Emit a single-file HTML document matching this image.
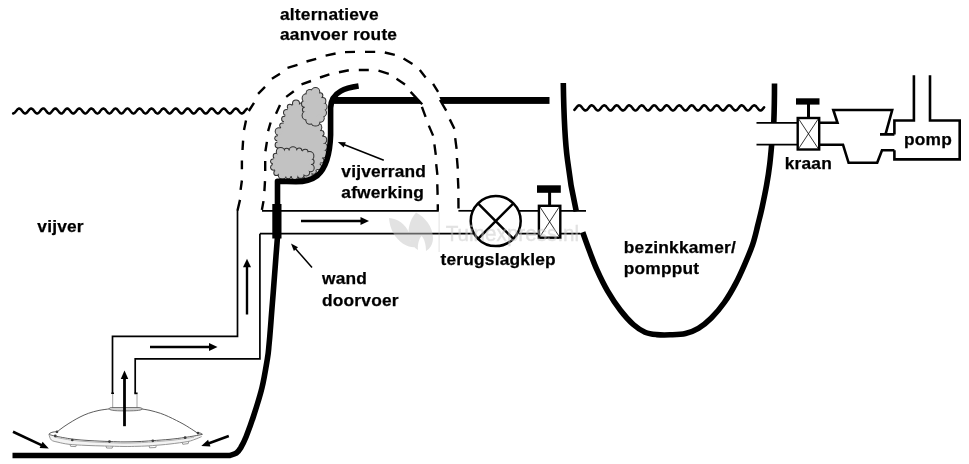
<!DOCTYPE html>
<html lang="nl">
<head>
<meta charset="utf-8">
<title>Vijver schema - bodemdrain, bezinkkamer en pomp</title>
<style>
html,body{margin:0;padding:0;background:#fff;}
body{width:969px;height:464px;overflow:hidden;font-family:"Liberation Sans",Arial,sans-serif;}
svg{display:block;filter:grayscale(1);}
</style>
</head>
<body>
<svg width="969" height="464" viewBox="0 0 969 464" font-family="'Liberation Sans', Arial, sans-serif" font-weight="bold" fill="#000">
<path d="M13.1,113.5 L13.8,113.3 L14.6,112.8 L15.3,112.0 L16.1,111.0 L16.9,110.1 L17.6,109.2 L18.4,108.7 L19.1,108.5 L19.9,108.7 L20.6,109.2 L21.4,110.0 L22.1,111.0 L22.9,111.9 L23.6,112.7 L24.4,113.3 L25.1,113.5 L25.9,113.3 L26.6,112.8 L27.4,112.0 L28.1,111.1 L28.9,110.1 L29.6,109.3 L30.4,108.7 L31.1,108.5 L31.9,108.7 L32.6,109.2 L33.4,110.0 L34.1,110.9 L34.9,111.9 L35.6,112.7 L36.4,113.3 L37.1,113.5 L37.9,113.3 L38.6,112.8 L39.4,112.1 L40.1,111.1 L40.9,110.2 L41.6,109.3 L42.4,108.7 L43.1,108.5 L43.9,108.6 L44.6,109.1 L45.4,109.9 L46.1,110.9 L46.9,111.8 L47.6,112.7 L48.4,113.2 L49.1,113.5 L49.9,113.4 L50.6,112.9 L51.4,112.1 L52.1,111.2 L52.9,110.2 L53.6,109.4 L54.4,108.8 L55.1,108.5 L55.9,108.6 L56.6,109.1 L57.4,109.9 L58.1,110.8 L58.9,111.8 L59.6,112.6 L60.4,113.2 L61.1,113.5 L61.9,113.4 L62.6,112.9 L63.4,112.2 L64.1,111.2 L64.8,110.3 L65.6,109.4 L66.3,108.8 L67.1,108.5 L67.8,108.6 L68.6,109.1 L69.3,109.8 L70.1,110.8 L70.8,111.7 L71.6,112.6 L72.3,113.2 L73.1,113.5 L73.8,113.4 L74.6,112.9 L75.3,112.2 L76.1,111.3 L76.8,110.3 L77.6,109.4 L78.3,108.8 L79.1,108.5 L79.8,108.6 L80.6,109.0 L81.3,109.8 L82.1,110.7 L82.8,111.7 L83.6,112.5 L84.3,113.2 L85.1,113.5 L85.8,113.4 L86.6,113.0 L87.3,112.2 L88.1,111.3 L88.8,110.4 L89.6,109.5 L90.3,108.8 L91.1,108.5 L91.8,108.6 L92.6,109.0 L93.3,109.7 L94.1,110.6 L94.8,111.6 L95.6,112.5 L96.3,113.1 L97.1,113.5 L97.8,113.4 L98.6,113.0 L99.3,112.3 L100.1,111.4 L100.8,110.4 L101.6,109.5 L102.3,108.9 L103.1,108.5 L103.8,108.6 L104.6,109.0 L105.3,109.7 L106.1,110.6 L106.8,111.6 L107.6,112.5 L108.3,113.1 L109.1,113.5 L109.8,113.4 L110.6,113.0 L111.3,112.3 L112.1,111.4 L112.8,110.5 L113.6,109.6 L114.3,108.9 L115.1,108.5 L115.8,108.6 L116.6,108.9 L117.3,109.6 L118.1,110.5 L118.8,111.5 L119.6,112.4 L120.3,113.1 L121.1,113.5 L121.8,113.4 L122.6,113.1 L123.3,112.4 L124.1,111.5 L124.8,110.5 L125.6,109.6 L126.3,108.9 L127.1,108.5 L127.8,108.5 L128.6,108.9 L129.3,109.6 L130.1,110.5 L130.8,111.5 L131.6,112.4 L132.3,113.1 L133.1,113.4 L133.8,113.5 L134.6,113.1 L135.3,112.4 L136.1,111.5 L136.8,110.6 L137.6,109.7 L138.3,109.0 L139.1,108.6 L139.8,108.5 L140.6,108.9 L141.3,109.6 L142.1,110.4 L142.8,111.4 L143.6,112.3 L144.3,113.0 L145.1,113.4 L145.8,113.5 L146.6,113.1 L147.3,112.5 L148.1,111.6 L148.8,110.6 L149.6,109.7 L150.3,109.0 L151.1,108.6 L151.8,108.5 L152.6,108.9 L153.3,109.5 L154.1,110.4 L154.8,111.4 L155.6,112.3 L156.3,113.0 L157.1,113.4 L157.8,113.5 L158.6,113.2 L159.3,112.5 L160.1,111.6 L160.8,110.7 L161.6,109.7 L162.3,109.0 L163.1,108.6 L163.8,108.5 L164.6,108.8 L165.3,109.5 L166.1,110.3 L166.8,111.3 L167.6,112.2 L168.3,113.0 L169.1,113.4 L169.8,113.5 L170.6,113.2 L171.3,112.5 L172.1,111.7 L172.8,110.7 L173.6,109.8 L174.3,109.0 L175.1,108.6 L175.8,108.5 L176.6,108.8 L177.3,109.4 L178.1,110.3 L178.8,111.3 L179.6,112.2 L180.3,112.9 L181.1,113.4 L181.8,113.5 L182.6,113.2 L183.3,112.6 L184.1,111.7 L184.8,110.8 L185.6,109.8 L186.3,109.1 L187.1,108.6 L187.8,108.5 L188.6,108.8 L189.3,109.4 L190.1,110.2 L190.8,111.2 L191.6,112.1 L192.3,112.9 L193.1,113.4 L193.8,113.5 L194.6,113.2 L195.3,112.6 L196.1,111.8 L196.8,110.8 L197.6,109.9 L198.3,109.1 L199.1,108.6 L199.8,108.5 L200.6,108.8 L201.3,109.4 L202.1,110.2 L202.8,111.2 L203.6,112.1 L204.3,112.9 L205.1,113.4 L205.8,113.5 L206.6,113.3 L207.3,112.7 L208.1,111.8 L208.8,110.9 L209.6,109.9 L210.3,109.1 L211.1,108.6 L211.8,108.5 L212.6,108.7 L213.3,109.3 L214.1,110.1 L214.8,111.1 L215.6,112.0 L216.3,112.8 L217.1,113.3 L217.8,113.5 L218.6,113.3 L219.3,112.7 L220.1,111.9 L220.8,110.9 L221.6,110.0 L222.3,109.2 L223.1,108.7 L223.8,108.5 L224.6,108.7 L225.3,109.3 L226.1,110.1 L226.8,111.1 L227.6,112.0 L228.3,112.8 L229.1,113.3 L229.8,113.5 L230.6,113.3 L231.3,112.7 L232.1,111.9 L232.8,111.0 L233.6,110.0 L234.3,109.2 L235.1,108.7 L235.8,108.5 L236.6,108.7 L237.3,109.2 L238.1,110.0 L238.8,111.0 L239.6,112.0 L240.3,112.8 L241.1,113.3 L241.8,113.5 L242.6,113.3 L243.3,112.8 L244.1,112.0 L244.8,111.0 L245.6,110.1 L246.3,109.3 L247.1,108.7" fill="none" stroke="#000" stroke-width="2.5" stroke-linejoin="round" stroke-linecap="round"/>
<path d="M574.4,109.9 L575.1,109.1 L575.9,108.2 L576.6,107.2 L577.4,106.3 L578.1,105.7 L578.9,105.3 L579.6,105.4 L580.4,105.7 L581.1,106.4 L581.9,107.3 L582.6,108.3 L583.4,109.2 L584.1,109.9 L584.9,110.4 L585.6,110.5 L586.4,110.2 L587.1,109.7 L587.9,108.8 L588.6,107.9 L589.4,106.9 L590.1,106.1 L590.9,105.5 L591.6,105.3 L592.4,105.4 L593.1,105.9 L593.9,106.7 L594.6,107.6 L595.4,108.6 L596.1,109.5 L596.9,110.1 L597.6,110.5 L598.4,110.4 L599.1,110.1 L599.9,109.4 L600.6,108.5 L601.4,107.5 L602.1,106.6 L602.9,105.9 L603.6,105.4 L604.4,105.3 L605.1,105.6 L605.9,106.1 L606.6,107.0 L607.4,107.9 L608.1,108.9 L608.9,109.7 L609.6,110.3 L610.4,110.5 L611.1,110.4 L611.9,109.9 L612.6,109.1 L613.4,108.2 L614.1,107.2 L614.9,106.3 L615.6,105.7 L616.4,105.3 L617.1,105.4 L617.9,105.7 L618.6,106.4 L619.4,107.3 L620.1,108.3 L620.9,109.2 L621.6,109.9 L622.4,110.4 L623.1,110.5 L623.9,110.2 L624.6,109.7 L625.4,108.8 L626.1,107.9 L626.9,106.9 L627.6,106.1 L628.4,105.5 L629.1,105.3 L629.9,105.4 L630.6,105.9 L631.4,106.7 L632.1,107.6 L632.9,108.6 L633.6,109.5 L634.4,110.1 L635.1,110.5 L635.9,110.4 L636.6,110.1 L637.4,109.4 L638.1,108.5 L638.9,107.5 L639.6,106.6 L640.4,105.9 L641.1,105.4 L641.9,105.3 L642.6,105.6 L643.4,106.1 L644.1,107.0 L644.9,107.9 L645.6,108.9 L646.4,109.7 L647.1,110.3 L647.9,110.5 L648.6,110.4 L649.4,109.9 L650.1,109.1 L650.9,108.2 L651.6,107.2 L652.4,106.3 L653.1,105.7 L653.9,105.3 L654.6,105.4 L655.4,105.7 L656.1,106.4 L656.9,107.3 L657.6,108.3 L658.4,109.2 L659.1,109.9 L659.9,110.4 L660.6,110.5 L661.4,110.2 L662.1,109.7 L662.9,108.8 L663.6,107.9 L664.4,106.9 L665.1,106.1 L665.9,105.5 L666.6,105.3 L667.4,105.4 L668.1,105.9 L668.9,106.7 L669.6,107.6 L670.4,108.6 L671.1,109.5 L671.9,110.1 L672.6,110.5 L673.4,110.4 L674.1,110.1 L674.9,109.4 L675.6,108.5 L676.4,107.5 L677.1,106.6 L677.9,105.9 L678.6,105.4 L679.4,105.3 L680.1,105.6 L680.9,106.1 L681.6,107.0 L682.4,107.9 L683.1,108.9 L683.9,109.7 L684.6,110.3 L685.4,110.5 L686.1,110.4 L686.9,109.9 L687.6,109.1 L688.4,108.2 L689.1,107.2 L689.9,106.3 L690.6,105.7 L691.4,105.3 L692.1,105.4 L692.9,105.7 L693.6,106.4 L694.4,107.3 L695.1,108.3 L695.9,109.2 L696.6,109.9 L697.4,110.4 L698.1,110.5 L698.9,110.2 L699.6,109.7 L700.4,108.8 L701.1,107.9 L701.9,106.9 L702.6,106.1 L703.4,105.5 L704.1,105.3 L704.9,105.4 L705.6,105.9 L706.4,106.7 L707.1,107.6 L707.9,108.6 L708.6,109.5 L709.4,110.1 L710.1,110.5 L710.9,110.4 L711.6,110.1 L712.4,109.4 L713.1,108.5 L713.9,107.5 L714.6,106.6 L715.4,105.9 L716.1,105.4 L716.9,105.3 L717.6,105.6 L718.4,106.1 L719.1,107.0 L719.9,107.9 L720.6,108.9 L721.4,109.7 L722.1,110.3 L722.9,110.5 L723.6,110.4 L724.4,109.9 L725.1,109.1 L725.9,108.2 L726.6,107.2 L727.4,106.3 L728.1,105.7 L728.9,105.3 L729.6,105.4 L730.4,105.7 L731.1,106.4 L731.9,107.3 L732.6,108.3 L733.4,109.2 L734.1,109.9 L734.9,110.4 L735.6,110.5 L736.4,110.2 L737.1,109.7 L737.9,108.8 L738.6,107.9 L739.4,106.9 L740.1,106.1 L740.9,105.5 L741.6,105.3 L742.4,105.4 L743.1,105.9 L743.9,106.7 L744.6,107.6 L745.4,108.6 L746.1,109.5 L746.9,110.1 L747.6,110.5 L748.4,110.4 L749.1,110.1 L749.9,109.4 L750.6,108.5 L751.4,107.5 L752.1,106.6 L752.9,105.9 L753.6,105.4 L754.4,105.3 L755.1,105.6 L755.9,106.1 L756.6,107.0 L757.4,107.9 L758.1,108.9 L758.9,109.7 L759.6,110.3 L760.4,110.5 L761.1,110.4 L761.9,109.9 L762.6,109.1 L763.4,108.2 L764.1,107.2" fill="none" stroke="#000" stroke-width="2.5" stroke-linejoin="round" stroke-linecap="round"/>
<rect x="331" y="97" width="218.5" height="6.9" fill="#000"/>
<path d="M415.2,96 L439,96 L442.5,105 L423.2,105 Z" fill="#fff"/>
<path d="M237.5,210.5 L240.0,199.9 M240.6,189.9 L241.9,180.5 M241.9,169.2 L241.9,160.5 M242.5,150.0 L243.1,140.6 M244.0,130.0 L246.0,120.6 M248.8,111.0 L254.0,102.8 M258.1,93.8 L265.0,86.9 M271.9,78.8 L280.0,73.8 M287.5,67.8 L297.5,64.8 M306.5,61.5 L316.2,58.8 M325.6,55.6 L335.6,53.5 M345.0,52.1 L355.0,51.9 M365.0,51.9 L375.2,51.9 M384.8,52.5 L394.8,54.8 M403.5,58.5 L412.5,64.0 M419.8,70.0 L425.6,77.5 M433.1,83.8 L438.1,91.9 M440.0,100.0 L446.2,110.6 M449.8,119.4 L454.4,128.8 M455.2,138.1 L456.6,148.8 M456.9,158.0 L457.8,168.6 M457.9,178.0 L458.4,188.6 M458.4,198.0 L458.5,208.6 M261.9,209.9 L263.5,201.1 M264.4,191.1 L265.0,181.1 M265.2,171.1 L265.2,161.1 M265.4,151.2 L266.9,141.9 M268.1,131.2 L270.6,122.5 M276.0,113.8 L280.0,105.0 M286.2,96.9 L293.8,91.2 M301.5,84.4 L311.0,81.0 M320.0,77.5 L329.4,74.4 M339.0,72.2 L348.8,70.2 M358.8,70.0 L368.8,70.0 M378.5,70.6 L388.8,73.8 M396.5,78.8 L405.0,84.4 M410.6,91.9 L422.2,104.2 M421.9,106.9 L425.6,116.9 M428.8,125.6 L433.1,135.6 M434.4,144.4 L435.8,154.9 M436.2,164.2 L437.4,174.9 M437.3,184.2 L437.6,194.9 M437.8,204.2 L437.8,210.5" fill="none" stroke="#000" stroke-width="2.4"/>
<circle cx="296.0" cy="103.5" r="4.0" fill="#303030"/><circle cx="302.2" cy="106.4" r="4.2" fill="#303030"/><circle cx="305.6" cy="112.4" r="5.0" fill="#303030"/><circle cx="308.0" cy="118.9" r="4.0" fill="#303030"/><circle cx="312.1" cy="123.9" r="4.1" fill="#303030"/><circle cx="318.0" cy="127.4" r="4.3" fill="#303030"/><circle cx="321.1" cy="133.4" r="3.4" fill="#303030"/><circle cx="323.1" cy="139.9" r="4.1" fill="#303030"/><circle cx="323.4" cy="146.8" r="4.4" fill="#303030"/><circle cx="322.8" cy="153.7" r="4.7" fill="#303030"/><circle cx="321.3" cy="160.4" r="3.2" fill="#303030"/><circle cx="318.2" cy="166.6" r="3.7" fill="#303030"/><circle cx="313.6" cy="171.5" r="3.2" fill="#303030"/><circle cx="307.9" cy="175.0" r="4.8" fill="#303030"/><circle cx="301.0" cy="175.0" r="4.5" fill="#303030"/><circle cx="294.5" cy="173.2" r="3.1" fill="#303030"/><circle cx="288.3" cy="170.1" r="5.1" fill="#303030"/><circle cx="285.0" cy="164.1" r="5.1" fill="#303030"/><circle cx="282.6" cy="157.7" r="4.4" fill="#303030"/><circle cx="280.8" cy="151.1" r="4.4" fill="#303030"/><circle cx="278.0" cy="145.0" r="3.4" fill="#303030"/><circle cx="277.3" cy="138.2" r="3.0" fill="#303030"/><circle cx="278.9" cy="131.5" r="4.2" fill="#303030"/><circle cx="282.3" cy="125.5" r="3.1" fill="#303030"/><circle cx="284.5" cy="119.1" r="3.4" fill="#303030"/><circle cx="286.5" cy="112.4" r="3.5" fill="#303030"/><circle cx="289.9" cy="106.8" r="3.1" fill="#303030"/><polygon points="296.0,103.5 302.0,106.0 306.0,113.0 309.0,122.0 319.0,128.0 323.0,138.0 323.5,150.0 321.5,160.0 317.0,169.0 309.0,175.0 298.0,175.0 288.0,170.0 283.0,160.0 281.5,152.0 278.5,148.0 277.0,139.5 279.0,131.0 283.5,123.5 285.5,115.0 288.5,107.5" fill="#c2c2c2"/><circle cx="296.0" cy="103.5" r="3.0" fill="#c2c2c2"/><circle cx="302.2" cy="106.4" r="3.2" fill="#c2c2c2"/><circle cx="305.6" cy="112.4" r="4.0" fill="#c2c2c2"/><circle cx="308.0" cy="118.9" r="3.0" fill="#c2c2c2"/><circle cx="312.1" cy="123.9" r="3.1" fill="#c2c2c2"/><circle cx="318.0" cy="127.4" r="3.3" fill="#c2c2c2"/><circle cx="321.1" cy="133.4" r="2.4" fill="#c2c2c2"/><circle cx="323.1" cy="139.9" r="3.1" fill="#c2c2c2"/><circle cx="323.4" cy="146.8" r="3.4" fill="#c2c2c2"/><circle cx="322.8" cy="153.7" r="3.7" fill="#c2c2c2"/><circle cx="321.3" cy="160.4" r="2.2" fill="#c2c2c2"/><circle cx="318.2" cy="166.6" r="2.7" fill="#c2c2c2"/><circle cx="313.6" cy="171.5" r="2.2" fill="#c2c2c2"/><circle cx="307.9" cy="175.0" r="3.8" fill="#c2c2c2"/><circle cx="301.0" cy="175.0" r="3.5" fill="#c2c2c2"/><circle cx="294.5" cy="173.2" r="2.1" fill="#c2c2c2"/><circle cx="288.3" cy="170.1" r="4.1" fill="#c2c2c2"/><circle cx="285.0" cy="164.1" r="4.1" fill="#c2c2c2"/><circle cx="282.6" cy="157.7" r="3.4" fill="#c2c2c2"/><circle cx="280.8" cy="151.1" r="3.4" fill="#c2c2c2"/><circle cx="278.0" cy="145.0" r="2.4" fill="#c2c2c2"/><circle cx="277.3" cy="138.2" r="2.0" fill="#c2c2c2"/><circle cx="278.9" cy="131.5" r="3.2" fill="#c2c2c2"/><circle cx="282.3" cy="125.5" r="2.1" fill="#c2c2c2"/><circle cx="284.5" cy="119.1" r="2.4" fill="#c2c2c2"/><circle cx="286.5" cy="112.4" r="2.5" fill="#c2c2c2"/><circle cx="289.9" cy="106.8" r="2.1" fill="#c2c2c2"/>
<circle cx="323.3" cy="106.8" r="4.3" fill="#303030"/><circle cx="322.5" cy="112.7" r="4.5" fill="#303030"/><circle cx="320.1" cy="118.2" r="4.6" fill="#303030"/><circle cx="315.5" cy="121.7" r="4.9" fill="#303030"/><circle cx="309.9" cy="120.3" r="4.5" fill="#303030"/><circle cx="306.5" cy="115.5" r="4.9" fill="#303030"/><circle cx="304.9" cy="109.8" r="3.0" fill="#303030"/><circle cx="304.9" cy="103.8" r="3.9" fill="#303030"/><circle cx="306.5" cy="98.1" r="4.9" fill="#303030"/><circle cx="309.9" cy="93.3" r="4.3" fill="#303030"/><circle cx="315.5" cy="91.9" r="4.8" fill="#303030"/><circle cx="320.1" cy="95.4" r="3.2" fill="#303030"/><circle cx="322.5" cy="100.9" r="3.9" fill="#303030"/><polygon points="323.3,106.8 323.0,110.7 322.1,114.4 320.6,117.5 318.6,120.0 316.4,121.5 314.0,122.0 311.6,121.5 309.4,120.0 307.4,117.5 305.9,114.4 305.0,110.7 304.7,106.8 305.0,102.9 305.9,99.2 307.4,96.1 309.4,93.6 311.6,92.1 314.0,91.6 316.4,92.1 318.6,93.6 320.6,96.1 322.1,99.2 323.0,102.9" fill="#c2c2c2"/><circle cx="323.3" cy="106.8" r="3.3" fill="#c2c2c2"/><circle cx="322.5" cy="112.7" r="3.5" fill="#c2c2c2"/><circle cx="320.1" cy="118.2" r="3.6" fill="#c2c2c2"/><circle cx="315.5" cy="121.7" r="3.9" fill="#c2c2c2"/><circle cx="309.9" cy="120.3" r="3.5" fill="#c2c2c2"/><circle cx="306.5" cy="115.5" r="3.9" fill="#c2c2c2"/><circle cx="304.9" cy="109.8" r="2.0" fill="#c2c2c2"/><circle cx="304.9" cy="103.8" r="2.9" fill="#c2c2c2"/><circle cx="306.5" cy="98.1" r="3.9" fill="#c2c2c2"/><circle cx="309.9" cy="93.3" r="3.3" fill="#c2c2c2"/><circle cx="315.5" cy="91.9" r="3.8" fill="#c2c2c2"/><circle cx="320.1" cy="95.4" r="2.2" fill="#c2c2c2"/><circle cx="322.5" cy="100.9" r="2.9" fill="#c2c2c2"/>
<circle cx="276.0" cy="156.0" r="3.3" fill="#303030"/><circle cx="280.6" cy="151.8" r="4.8" fill="#303030"/><circle cx="286.7" cy="150.9" r="3.1" fill="#303030"/><circle cx="293.0" cy="150.5" r="4.3" fill="#303030"/><circle cx="299.2" cy="150.5" r="3.1" fill="#303030"/><circle cx="305.2" cy="152.1" r="3.4" fill="#303030"/><circle cx="309.5" cy="156.0" r="4.9" fill="#303030"/><circle cx="311.3" cy="161.8" r="3.3" fill="#303030"/><circle cx="310.5" cy="168.0" r="4.2" fill="#303030"/><circle cx="306.3" cy="172.6" r="3.8" fill="#303030"/><circle cx="300.7" cy="174.9" r="3.8" fill="#303030"/><circle cx="294.6" cy="176.0" r="3.9" fill="#303030"/><circle cx="288.3" cy="176.0" r="3.3" fill="#303030"/><circle cx="282.3" cy="175.0" r="4.6" fill="#303030"/><circle cx="276.4" cy="172.9" r="3.1" fill="#303030"/><circle cx="273.5" cy="167.3" r="3.4" fill="#303030"/><circle cx="273.0" cy="161.3" r="2.9" fill="#303030"/><polygon points="276.0,156.0 281.0,151.5 290.0,150.5 300.0,150.5 308.0,153.0 311.5,160.0 310.5,168.0 305.0,174.0 296.0,176.0 285.0,176.0 276.5,173.0 272.8,166.0 273.0,160.0" fill="#c2c2c2"/><circle cx="276.0" cy="156.0" r="2.3" fill="#c2c2c2"/><circle cx="280.6" cy="151.8" r="3.8" fill="#c2c2c2"/><circle cx="286.7" cy="150.9" r="2.1" fill="#c2c2c2"/><circle cx="293.0" cy="150.5" r="3.3" fill="#c2c2c2"/><circle cx="299.2" cy="150.5" r="2.1" fill="#c2c2c2"/><circle cx="305.2" cy="152.1" r="2.4" fill="#c2c2c2"/><circle cx="309.5" cy="156.0" r="3.9" fill="#c2c2c2"/><circle cx="311.3" cy="161.8" r="2.3" fill="#c2c2c2"/><circle cx="310.5" cy="168.0" r="3.2" fill="#c2c2c2"/><circle cx="306.3" cy="172.6" r="2.8" fill="#c2c2c2"/><circle cx="300.7" cy="174.9" r="2.8" fill="#c2c2c2"/><circle cx="294.6" cy="176.0" r="2.9" fill="#c2c2c2"/><circle cx="288.3" cy="176.0" r="2.3" fill="#c2c2c2"/><circle cx="282.3" cy="175.0" r="3.6" fill="#c2c2c2"/><circle cx="276.4" cy="172.9" r="2.1" fill="#c2c2c2"/><circle cx="273.5" cy="167.3" r="2.4" fill="#c2c2c2"/><circle cx="273.0" cy="161.3" r="1.9" fill="#c2c2c2"/>
<path d="M358.6,86.1 C348,87.8 331,90.5 330.6,108 L330.6,135 C330,155 326,168 317.5,175.5 C311,180.5 305,181.75 296,181.75 L277.5,181.3 L277.5,238 L277.4,238.0 C277.2,241.0 276.5,249.9 276.0,256.0 C275.5,262.1 275.1,268.4 274.6,274.6 C274.1,280.8 273.7,286.8 273.2,293.0 C272.7,299.2 272.2,305.6 271.7,311.8 C271.2,318.0 270.8,324.5 270.3,330.0 C269.9,335.5 269.5,340.2 269.0,345.0 C268.5,349.8 268.6,351.7 267.4,358.8 C266.2,365.9 264.3,378.1 262.0,387.7 C259.7,397.3 256.1,408.3 253.4,416.5 C250.8,424.7 248.2,431.4 246.1,436.7 C244.0,441.9 242.2,445.2 240.6,448.0 C238.9,450.8 238.0,451.9 236.2,453.2 C234.3,454.4 230.6,455.1 229.5,455.5 L12.5,455.5" fill="none" stroke="#000" stroke-width="5.6" stroke-linejoin="round"/>
<rect x="272.3" y="204" width="9.2" height="34.5" fill="#000"/>
<path d="M237.5,210 L237.5,336.3 L112.5,336.3 L112.5,394" fill="none" stroke="#000" stroke-width="1.7"/>
<path d="M259.9,233.7 L259.9,358.8 L135.2,358.8 L135.2,393.4" fill="none" stroke="#000" stroke-width="1.7"/>
<path d="M262,210.8 L438.8,210.8" fill="none" stroke="#000" stroke-width="1.7"/>
<path d="M458.4,210.8 L472,210.8" fill="none" stroke="#000" stroke-width="1.7"/>
<path d="M259.9,233.7 L473,233.7" fill="none" stroke="#000" stroke-width="1.7"/>
<path d="M519,210.8 L538,210.8 M519,233.7 L538,233.7" fill="none" stroke="#000" stroke-width="1.7"/>
<path d="M561,210.8 L586,210.8 M561,233.7 L580.4,233.7" fill="none" stroke="#000" stroke-width="1.7"/>
<circle cx="495.7" cy="221.1" r="25" fill="#fff" stroke="#000" stroke-width="2.5"/>
<path d="M478,203.4 L513.4,238.8 M513.4,203.4 L478,238.8" fill="none" stroke="#000" stroke-width="2.5"/>
<rect x="538.9" y="205.8" width="21.4" height="31.9" fill="#fff" stroke="#000" stroke-width="2.4"/><path d="M539.9,206.8 L559.3,236.7 M559.3,206.8 L539.9,236.7" stroke="#000" stroke-width="0.8" fill="none"/><rect x="548.1" y="192.0" width="3" height="13.8" fill="#000"/><rect x="537.0" y="185.3" width="23.8" height="7.5" fill="#000"/>
<rect x="797.7" y="118.0" width="21.5" height="31.5" fill="#fff" stroke="#000" stroke-width="2.4"/><path d="M798.7,119.0 L818.2,148.5 M818.2,119.0 L798.7,148.5" stroke="#000" stroke-width="0.8" fill="none"/><rect x="807.0" y="104.0" width="3" height="14.0" fill="#000"/><rect x="796.0" y="98.3" width="23.5" height="6.3" fill="#000"/>
<path d="M563.3,83 C563.8,115 564.8,140 567.5,160 C569.5,178 572.5,195 576.3,211.4" fill="none" stroke="#000" stroke-width="5.6"/>
<path d="M582.7,232.3 C583.8,235.4 587.0,244.5 589.4,250.8 C591.8,257.1 594.1,263.5 597.1,270.2 C600.1,276.9 603.6,284.2 607.5,290.9 C611.4,297.6 616.1,304.7 620.4,310.3 C624.7,315.9 629.2,320.9 633.3,324.5 C637.4,328.1 641.1,330.5 645.0,332.2 C648.9,333.9 652.4,334.2 656.6,334.6 C660.8,335.0 665.2,335.0 670.0,334.8 C674.8,334.6 680.8,334.6 685.5,333.5 C690.2,332.4 694.1,331.0 698.4,328.4 C702.7,325.8 707.0,322.3 711.3,318.0 C715.6,313.7 720.2,308.3 724.3,302.5 C728.4,296.7 732.5,289.6 735.9,283.1 C739.3,276.7 742.1,270.2 744.9,263.8 C747.7,257.4 750.6,250.7 752.7,244.4 C754.8,238.1 756.1,232.1 757.6,226.0 C759.1,219.9 760.5,214.8 762.0,207.9 C763.5,201.0 765.4,191.9 766.7,184.6 C768.0,177.3 769.0,170.6 769.8,163.9 C770.6,157.2 771.4,147.6 771.7,144.3" fill="none" stroke="#000" stroke-width="5.6"/>
<path d="M773.8,122.5 C774.3,110 774.5,95 774.5,83.5" fill="none" stroke="#000" stroke-width="5.6"/>
<path d="M756.5,122.8 L797,122.8 M756.5,144.7 L797,144.7" fill="none" stroke="#000" stroke-width="1.7"/>
<path d="M820,122.8 L837.5,122.8 L833.3,110 L892.2,110 L885.5,134.4 M880,134.4 L894.4,134.4" fill="none" stroke="#000" stroke-width="2.6" stroke-linejoin="miter"/>
<path d="M820,144.7 L843,144.7 L848.6,162.8 L877.2,162.8 L882,150.3 L894.4,150.3" fill="none" stroke="#000" stroke-width="2.6" stroke-linejoin="miter"/>
<path d="M894.4,134.4 L894.4,120.5 L913.9,120.5 L913.9,75.3 M930,75.3 L930,120.5 L959.7,120.5 L959.7,159.4 L894.4,159.4 L894.4,150.3" fill="none" stroke="#000" stroke-width="2.6" stroke-linejoin="miter"/>
<path d="M112.7,393 L112.7,408.5 M137,394.5 L137,408.5" fill="none" stroke="#9a9a9a" stroke-width="0.9"/>
<path d="M111.3,393.2 L114,393.2 M134.4,393.4 L137.6,393.4" fill="none" stroke="#000" stroke-width="1.6"/>
<path d="M57.0,431.8 C58.2,430.9 61.5,428.4 64.0,426.6 C66.5,424.9 69.6,422.9 72.3,421.3 C75.0,419.7 77.3,418.3 80.0,417.0 C82.7,415.7 85.3,414.4 88.5,413.3 C91.7,412.2 95.5,411.1 99.0,410.4 C102.5,409.7 107.8,409.1 109.5,408.9 L139.4,408.6 L139.4,408.6 C141.2,408.9 146.5,409.6 150.0,410.4 C153.5,411.2 157.3,412.3 160.4,413.3 C163.5,414.3 165.8,415.4 168.5,416.6 C171.2,417.8 174.1,419.3 176.5,420.5 C178.9,421.7 180.8,422.7 183.0,423.9 C185.2,425.1 187.1,426.3 189.5,427.8 C191.9,429.3 196.2,432.2 197.5,433.1" fill="none" stroke="#4a4a4a" stroke-width="0.9"/>
<path d="M109.2,408.6 C109.4,407.6 111,407.4 113,407.5 L137,407.5 C140,407.4 142,407.8 142.2,408.8 C142,410.2 138,410.9 125.5,410.9 C113,410.9 109.4,410.2 109.2,408.6 Z" fill="#d2d2d2" stroke="#5a5a5a" stroke-width="0.8"/>
<path d="M48.9,434.3 C49.8,434.6 50.6,435.1 54.5,435.9 C58.4,436.7 66.4,438.3 72.3,439.1 C78.2,439.9 83.8,440.2 90.0,440.6 C96.2,441.0 103.8,441.3 109.5,441.5 C115.2,441.7 119.2,441.9 124.0,441.9 C128.8,441.9 133.3,441.8 138.0,441.6 C142.7,441.4 147.0,441.1 152.3,440.7 C157.6,440.3 164.6,439.8 170.0,439.3 C175.4,438.8 180.6,438.1 184.6,437.5 C188.6,436.9 191.0,436.5 194.0,436.0 C197.0,435.5 201.0,434.6 202.4,434.3 L201.6,436.6 C200.5,437.1 197.3,438.5 195.0,439.3 C192.7,440.1 192.1,440.7 187.9,441.5 C183.7,442.3 175.9,443.3 170.0,444.0 C164.1,444.7 157.6,445.2 152.3,445.6 C147.0,446.0 142.7,446.2 138.0,446.3 C133.3,446.4 129.6,446.6 124.0,446.5 C118.4,446.4 110.9,446.2 104.6,446.0 C98.3,445.8 91.9,445.7 86.0,445.4 C80.1,445.1 73.7,444.8 69.0,444.3 C64.3,443.8 61.0,442.9 58.0,442.2 C55.0,441.5 52.8,441.3 51.3,440.0 C49.8,438.7 49.3,435.2 48.9,434.3 Z" fill="#f3f3f3" stroke="none"/>
<path d="M48.9,434.3 C49.8,434.6 50.6,435.1 54.5,435.9 C58.4,436.7 66.4,438.3 72.3,439.1 C78.2,439.9 83.8,440.2 90.0,440.6 C96.2,441.0 103.8,441.3 109.5,441.5 C115.2,441.7 119.2,441.9 124.0,441.9 C128.8,441.9 133.3,441.8 138.0,441.6 C142.7,441.4 147.0,441.1 152.3,440.7 C157.6,440.3 164.6,439.8 170.0,439.3 C175.4,438.8 180.6,438.1 184.6,437.5 C188.6,436.9 191.0,436.5 194.0,436.0 C197.0,435.5 201.0,434.6 202.4,434.3" fill="none" stroke="#4a4a4a" stroke-width="0.9"/>
<path d="M54.5,437.1 C57.5,437.6 66.4,439.5 72.3,440.3 C78.2,441.1 83.8,441.4 90.0,441.8 C96.2,442.2 103.8,442.5 109.5,442.7 C115.2,442.9 119.2,443.1 124.0,443.1 C128.8,443.1 133.3,443.0 138.0,442.8 C142.7,442.6 147.0,442.3 152.3,441.9 C157.6,441.5 164.6,441.0 170.0,440.5 C175.4,440.0 180.6,439.2 184.6,438.7 C188.6,438.1 192.4,437.4 194.0,437.2" fill="none" stroke="#b5b5b5" stroke-width="1"/>
<path d="M48.9,434.3 C50,432.6 53,431.6 57,431.8 M202.4,434.3 C201,433 199.5,432.8 197.5,433.1" fill="none" stroke="#4a4a4a" stroke-width="0.9"/>
<path d="M201.6,436.6 C200.5,437.1 197.3,438.5 195.0,439.3 C192.7,440.1 192.1,440.7 187.9,441.5 C183.7,442.3 175.9,443.3 170.0,444.0 C164.1,444.7 157.6,445.2 152.3,445.6 C147.0,446.0 142.7,446.2 138.0,446.3 C133.3,446.4 129.6,446.6 124.0,446.5 C118.4,446.4 110.9,446.2 104.6,446.0 C98.3,445.8 91.9,445.7 86.0,445.4 C80.1,445.1 73.7,444.8 69.0,444.3 C64.3,443.8 61.0,442.9 58.0,442.2 C55.0,441.5 52.8,441.3 51.3,440.0 C49.8,438.7 49.3,435.2 48.9,434.3" fill="none" stroke="#8a8a8a" stroke-width="0.9"/>
<path d="M70,444.4 L70.6,446.3 L75.8,446.6 L76.3,445 M106,446 L106.6,448 L112.2,448.1 L112.7,446.3 M149,445.8 L149.6,447.8 L155.8,447.5 L156.3,445.4 M182.2,442.4 L182.8,444.3 L188.2,443.6 L188.7,441.4" fill="none" stroke="#8a8a8a" stroke-width="0.9"/>
<circle cx="57.0" cy="431.8" r="1.35" fill="#3c3c3c"/>
<circle cx="55.3" cy="435.9" r="1.35" fill="#3c3c3c"/>
<circle cx="72.3" cy="440.0" r="1.35" fill="#3c3c3c"/>
<circle cx="109.5" cy="441.6" r="1.35" fill="#3c3c3c"/>
<circle cx="152.8" cy="440.8" r="1.35" fill="#3c3c3c"/>
<circle cx="185.1" cy="437.7" r="1.35" fill="#3c3c3c"/>
<circle cx="198.0" cy="433.1" r="1.35" fill="#3c3c3c"/>
<line x1="124.50" y1="426.20" x2="124.50" y2="378.00" stroke="#000" stroke-width="2.80"/><polygon points="124.50,370.50 128.25,379.00 120.75,379.00" fill="#000"/>
<line x1="13.00" y1="431.80" x2="42.00" y2="445.33" stroke="#000" stroke-width="2.60"/><polygon points="48.80,448.50 39.62,448.08 42.58,441.73" fill="#000"/>
<line x1="228.80" y1="436.00" x2="208.35" y2="443.44" stroke="#000" stroke-width="2.60"/><polygon points="201.30,446.00 208.09,439.81 210.48,446.38" fill="#000"/>
<line x1="150.00" y1="347.00" x2="210.00" y2="347.00" stroke="#000" stroke-width="2.40"/><polygon points="217.50,347.00 209.00,351.00 209.00,343.00" fill="#000"/>
<line x1="247.00" y1="314.50" x2="247.00" y2="266.30" stroke="#000" stroke-width="2.40"/><polygon points="247.00,258.80 251.00,267.30 243.00,267.30" fill="#000"/>
<line x1="301.00" y1="221.00" x2="361.50" y2="221.00" stroke="#000" stroke-width="2.40"/><polygon points="369.00,221.00 360.50,225.00 360.50,217.00" fill="#000"/>
<line x1="312.00" y1="267.50" x2="295.28" y2="248.39" stroke="#000" stroke-width="1.50"/><polygon points="291.00,243.50 298.01,247.33 293.87,250.96" fill="#000"/>
<line x1="383.80" y1="160.20" x2="343.85" y2="144.48" stroke="#000" stroke-width="1.50"/><polygon points="337.80,142.10 345.79,142.29 343.77,147.41" fill="#000"/>
<g opacity="0.999">
<text x="280.0" y="19.5" font-size="17.33" letter-spacing="0.2" stroke="#000" stroke-width="0.25">alternatieve</text>
<text x="280.0" y="40.4" font-size="17.33" letter-spacing="0.2" stroke="#000" stroke-width="0.25">aanvoer route</text>
<text x="37.3" y="231.6" font-size="17.33" letter-spacing="0.2" stroke="#000" stroke-width="0.25">vijver</text>
<text x="341.3" y="177.0" font-size="17.33" letter-spacing="0.2" stroke="#000" stroke-width="0.25">vijverrand</text>
<text x="341.3" y="197.6" font-size="17.33" letter-spacing="0.2" stroke="#000" stroke-width="0.25">afwerking</text>
<text x="322.0" y="284.4" font-size="17.33" letter-spacing="0.2" stroke="#000" stroke-width="0.25">wand</text>
<text x="322.0" y="305.7" font-size="17.33" letter-spacing="0.2" stroke="#000" stroke-width="0.25">doorvoer</text>
<text x="440.5" y="265.3" font-size="17.33" letter-spacing="0.2" stroke="#000" stroke-width="0.25">terugslagklep</text>
<text x="623.8" y="252.7" font-size="17.33" letter-spacing="0.2" stroke="#000" stroke-width="0.25">bezinkkamer/</text>
<text x="623.8" y="274.0" font-size="17.33" letter-spacing="0.2" stroke="#000" stroke-width="0.25">pompput</text>
<text x="784.7" y="168.5" font-size="17.33" letter-spacing="0.2" stroke="#000" stroke-width="0.25">kraan</text>
<text x="904.0" y="144.7" font-size="17.33" letter-spacing="0.2" stroke="#000" stroke-width="0.25">pomp</text>
</g>
<g opacity="0.5" fill="#c6c6c6"><path d="M389,218 C397,218.5 406,224 409,233 C411,238 410,242 408,244 C398,243 390,232 389,218 Z"/><path d="M416,212.5 C425,217 433,227 433,238 C433,244 430,249 426,251 C426,244 424,238 421.5,236 C419,239 417.5,244 418,250 C411,246 407,236 409,227 C410,221 413,216 416,212.5 Z"/><path d="M395,233 C402,234 410,239 416,247 C408,248 398,243 395,233 Z"/><rect x="438.6" y="212" width="1" height="40"/><text x="445.7" y="240.6" font-size="21.4" font-weight="normal" stroke="#c6c6c6" stroke-width="0.4" textLength="133.5" lengthAdjust="spacingAndGlyphs">Tuinexpress.nl</text></g>
</svg>
</body>
</html>
